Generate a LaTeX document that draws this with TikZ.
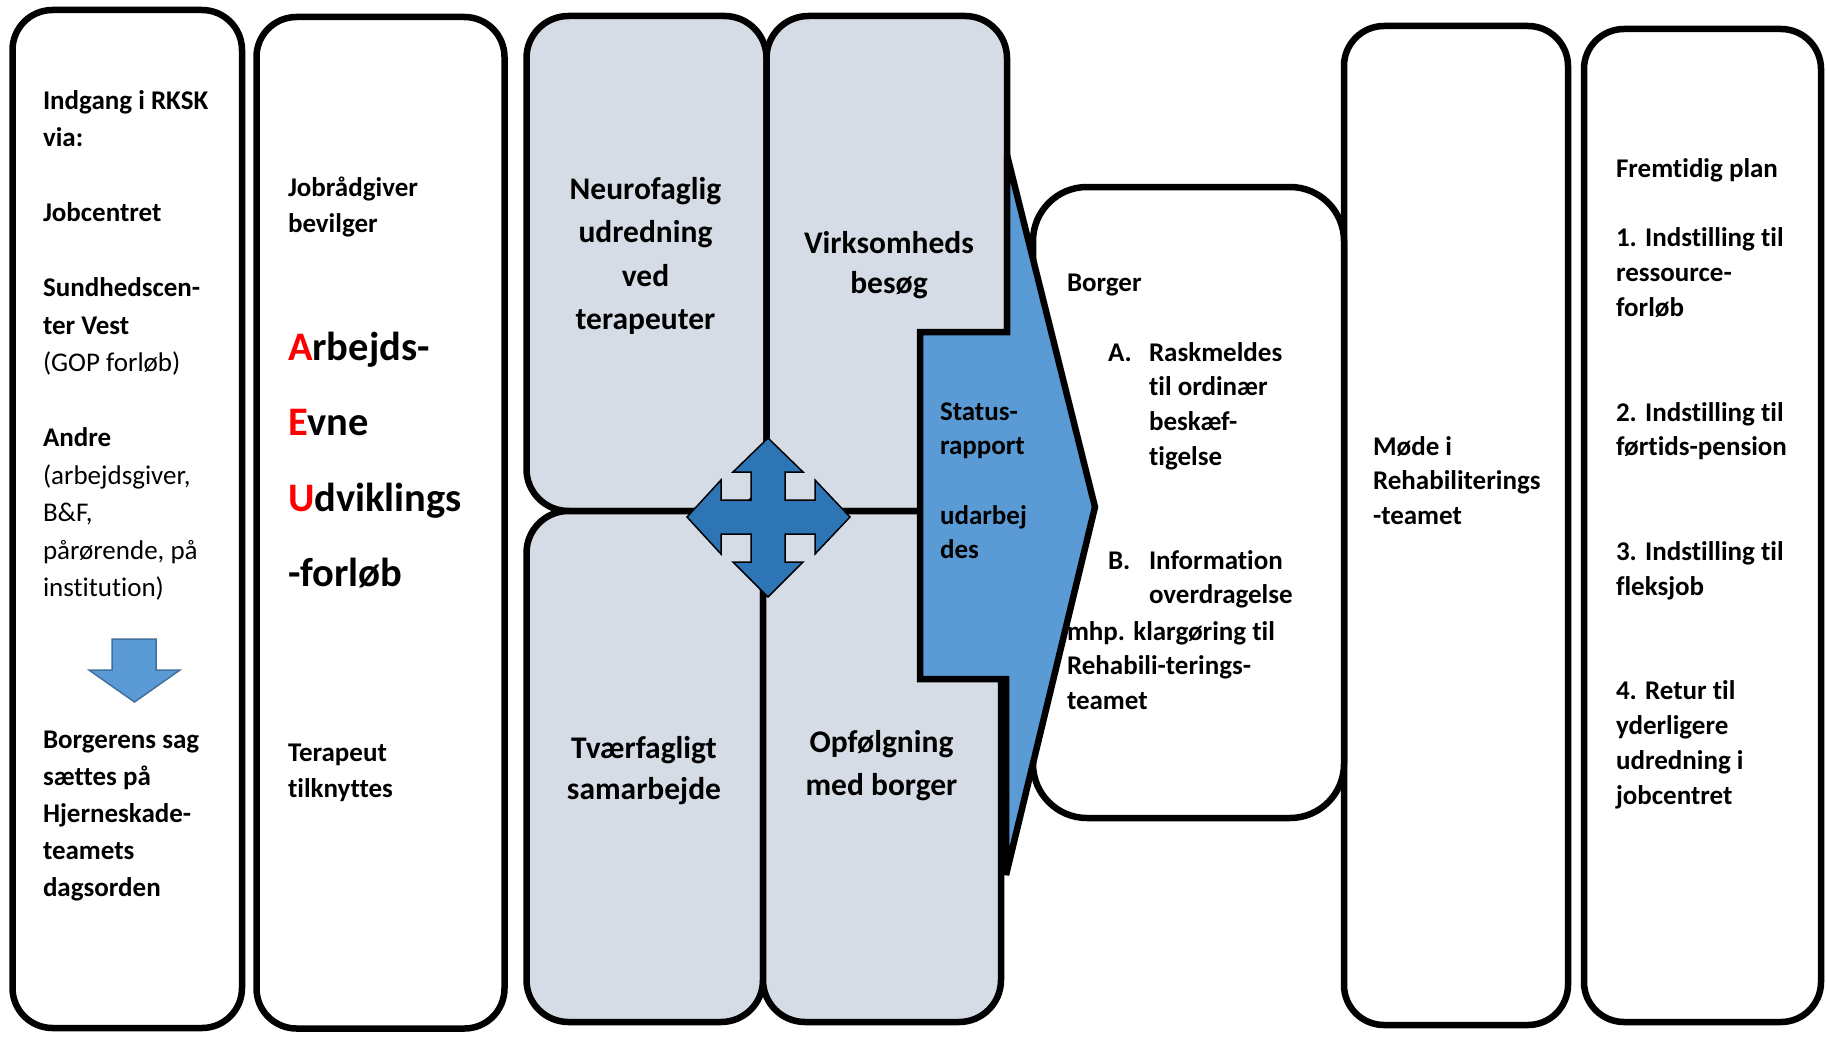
\documentclass[tikz,border=0pt]{standalone}
\usepackage{fontspec}
\setmainfont{Carlito}[RawFeature={-liga;-clig;-calt;-dlig}]
\usepackage{xcolor}
\definecolor{greyfill}{HTML}{D6DCE5}
\definecolor{arrowblue}{HTML}{5B9BD5}
\definecolor{crossblue}{HTML}{2E75B6}
\definecolor{arrowedge}{HTML}{41719C}
\tikzset{
  whitebox/.style={draw=black, line width=3.25pt, rounded corners=20pt, fill=white},
  borgerbox/.style={draw=black, line width=3.25pt, rounded corners=27pt, fill=white},
  greybox/.style={draw=black, line width=3.25pt, rounded corners=21pt, fill=greyfill},
  txt/.style={inner sep=0pt, outer sep=0pt, anchor=north west, align=left, text=black},
  gtxt/.style={inner sep=0pt, outer sep=0pt, anchor=north, align=center, text=black},
  small/.style={font=\fontsize{13.5pt}{#1}\selectfont\bfseries},
  mid/.style={font=\fontsize{15.75pt}{#1}\selectfont\bfseries},
  big/.style={font=\fontsize{20.25pt}{#1}\selectfont\bfseries},
}
\begin{document}
\begin{tikzpicture}[x=0.5pt, y=-0.5pt]
\useasboundingbox (0,0) rectangle (1826,1038);
\fill[white] (0,0) rectangle (1826,1038);

% right column boxes
\draw[whitebox] (1344,26) rectangle (1568,1025);
\draw[whitebox] (1584,29) rectangle (1821,1022);
\draw[borgerbox] (1033,187) rectangle (1344,818);

% left boxes
\draw[whitebox] (12.5,10) rectangle (242,1028);
\draw[whitebox] (256.5,17) rectangle (504.5,1028.5);

% grey boxes
\draw[greybox] (526.5,16) rectangle (766.5,511);
\draw[greybox] (766.5,16) rectangle (1007,511);
\draw[greybox] (526.5,511) rectangle (763,1022);
\draw[greybox] (763,511) rectangle (1001,1022);

% blue status arrow
\draw[fill=arrowblue, draw=black, line width=3.25pt, line join=miter, miter limit=3]
  (920,332) -- (1007,332) -- (1007,155) -- (1095,507) -- (1006,875) -- (1006,679) -- (920,679) -- cycle;

% down arrow in first box
\draw[fill=arrowblue, draw=arrowedge, line width=0.75pt]
  (112,639) -- (156,639) -- (156,670) -- (180,670) -- (134.5,702) -- (89,670) -- (112,670) -- cycle;

% four-way arrow
\begin{scope}[shift={(768,517)}]
\draw[fill=crossblue, draw=black, line width=0.75pt]
  (0,-79) -- (35,-45) -- (17,-45) -- (17,-17) -- (47,-17) -- (47,-37) -- (82,0)
  -- (47,37) -- (47,17) -- (17,17) -- (17,45) -- (35,45) -- (0,80)
  -- (-35,45) -- (-17,45) -- (-17,17) -- (-47,17) -- (-47,37) -- (-81,0)
  -- (-47,-37) -- (-47,-17) -- (-17,-17) -- (-17,-45) -- (-35,-45) -- cycle;
\end{scope}

% texts box 1
\node[txt, small=18.75pt] (entry) at (43,82) {\rule{0pt}{1em}Indgang i RKSK\\via:\\[18.75pt]Jobcentret\\[18.75pt]Sundhedscen-\\ter Vest\\{\mdseries (GOP forløb)}\\[18.75pt]Andre\\{\mdseries (arbejdsgiver,}\\{\mdseries B\&F,}\\{\mdseries pårørende, på}\\{\mdseries institution)}};
\node[txt, small=18.5pt] (agenda) at (43,721) {\rule{0pt}{1em}Borgerens sag\\sættes på\\Hjerneskade-\\teamets\\dagsorden};

% texts box 2
\node[txt, small=18pt] (grant) at (288,169) {\rule{0pt}{1em}Jobrådgiver\\bevilger};
\node[txt, big=37.65pt] (aeu) at (288,320) {\rule{0pt}{1em}\textcolor{red}{A}rbejds-\\\textcolor{red}{E}vne\\\textcolor{red}{U}dviklings\\-forløb};
\node[txt, small=18pt] (therapist) at (288,734.5) {\rule{0pt}{1em}Terapeut\\tilknyttes};

% grey box texts
\node[gtxt, mid=21.75pt] (neuro) at (645.5,167.5) {\rule{0pt}{1em}Neurofaglig\\udredning\\ved\\terapeuter};
\node[gtxt, mid=20pt] (visit) at (889,221.5) {\rule{0pt}{1em}Virksomheds\\besøg};
\node[gtxt, mid=20.5pt] (cross) at (644,727) {\rule{0pt}{1em}Tværfagligt\\samarbejde};
\node[gtxt, mid=21.5pt] (follow) at (881.5,721) {\rule{0pt}{1em}Opfølgning\\med borger};

% status text
\node[txt, small=17.35pt] (status) at (940,393) {\rule{0pt}{1em}Status-\\rapport\\[17.35pt]udarbej\\des};

% Borger box
\node[txt, small=17.4pt] (borger) at (1067,264) {\rule{0pt}{1em}Borger};
\node[txt, small=17.4pt] (labA) at (1108,334) {\rule{0pt}{1em}A.};
\node[txt, small=17.4pt] (itemA) at (1149,334) {\rule{0pt}{1em}Raskmeldes\\til ordinær\\beskæf-\\tigelse};
\node[txt, small=17.4pt] (labB) at (1108,542) {\rule{0pt}{1em}B.};
\node[txt, small=17.4pt] (itemB) at (1149,542) {\rule{0pt}{1em}Information\\overdragelse};
\node[txt, small=17.4pt] (itemBc) at (1067,613) {\rule{0pt}{1em}mhp. klargøring til\\Rehabili-terings-\\teamet};

% Møde box
\node[txt, small=17.4pt] (meeting) at (1373,428) {\rule{0pt}{1em}Møde i\\Rehabiliterings\\-teamet};

% Fremtidig plan box
\node[txt, small=17.43pt] (plan) at (1616,150) {\rule{0pt}{1em}Fremtidig plan\\[17.43pt]1. Indstilling til\\ressource-\\forløb\\[34.86pt]2. Indstilling til\\førtids-pension\\[34.86pt]3. Indstilling til\\fleksjob\\[34.86pt]4. Retur til\\yderligere\\udredning i\\jobcentret};
\end{tikzpicture}
\end{document}
